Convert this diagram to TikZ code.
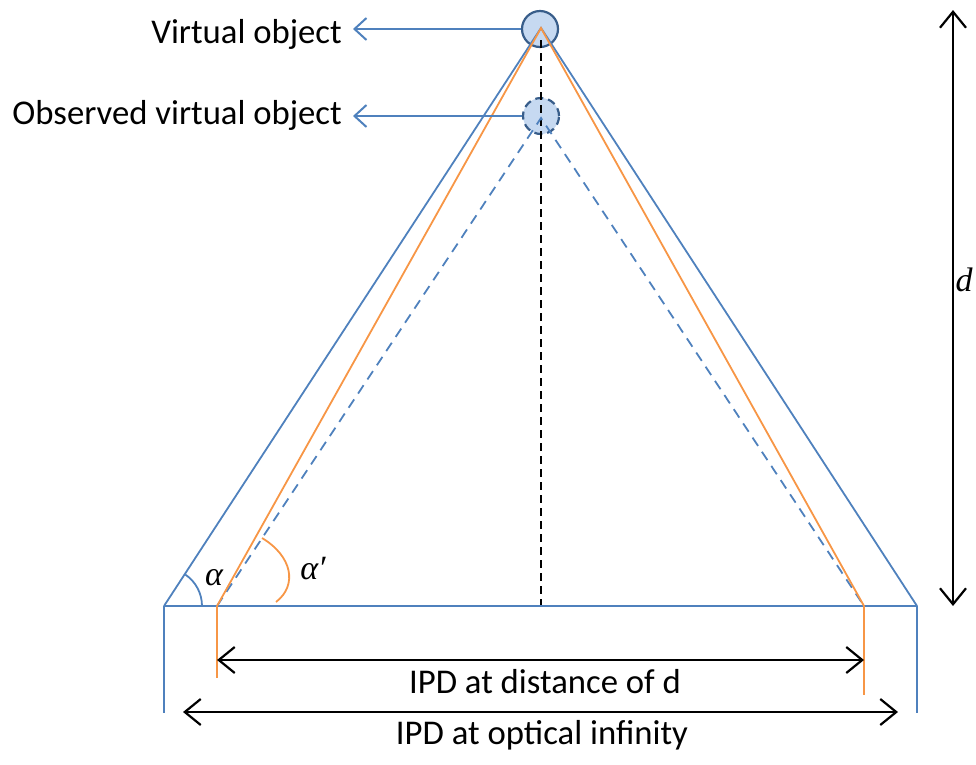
\documentclass[tikz,border=0pt]{standalone}
\usepackage{fontspec}
\setmainfont{Carlito}
\newfontfamily\symfont{Liberation Serif}
\usetikzlibrary{arrows.meta}
\definecolor{oblue}{HTML}{4F81BD}
\definecolor{oorange}{HTML}{F79646}
\definecolor{cfill}{HTML}{C6D9F1}
\definecolor{cborder}{HTML}{385D8A}
\tikzset{
  bluel/.style={draw=oblue, line width=1.8pt},
  orangel/.style={draw=oorange, line width=1.8pt},
  bluedash/.style={draw=oblue, line width=1.8pt, dash pattern=on 10pt off 7pt},
  blackarr/.style={draw=black, line width=2.2pt, {Straight Barb[length=16pt,width=26pt,line width=2.2pt]}-{Straight Barb[length=16pt,width=26pt,line width=2.2pt]}},
  bluearr/.style={draw=oblue, line width=2pt, -{Straight Barb[length=12pt,width=22pt,line width=2pt]}},
  lbl/.style={font=\fontsize{34.7}{40}\selectfont, inner sep=0pt},
  sym/.style={font=\symfont\itshape\fontsize{34}{40}\selectfont, inner sep=0pt},
  objc/.style={circle, draw=cborder, fill=cfill, line width=2.2pt, minimum size=36pt, inner sep=0pt}
}
\begin{document}
\begin{tikzpicture}[x=1pt,y=-1pt]
\useasboundingbox (0,0) rectangle (976,764);
% objects
\node[objc] (vo) at (540,29) {};
\node[objc, dash pattern=on 8pt off 5pt] (ovo) at (541,116) {};
% key points
\coordinate (apex) at (541,28);
\coordinate (oapex) at (541,118);
\coordinate (bl) at (164,606);
\coordinate (br) at (917,606);
\coordinate (ol) at (217,606);
\coordinate (or) at (864,606);
\coordinate (mid) at (541,606);
\coordinate (blb) at (164,713);
\coordinate (brb) at (917,713);
\coordinate (olb) at (217,678);
\coordinate (orb) at (864,695);
% center dashed line
\draw[black, line width=1.5pt, dash pattern=on 8pt off 5pt] (541,40) coordinate (ctop) -- (mid);
% blue outer lines
\draw[bluel] (bl) -- (apex) -- (br);
\draw[bluel] (bl) -- (br);
\draw[bluel] (bl) -- (blb);
\draw[bluel] (br) -- (brb);
% blue dashed
\draw[bluedash] (ol) -- (oapex) -- (or);
% orange lines
\draw[orangel] (ol) -- (apex) -- (or);
\draw[orangel] (ol) -- (olb);
\draw[orangel] (or) -- (orb);
% angles
\draw[bluel] ([shift={(38,0)}]bl) arc[start angle=0, end angle=-56, radius=38];
\draw[orangel] (262,538) .. controls (292,556) and (298,585) .. (276,602);
\node[sym] (alpha) at (214,578) {α};
\node[sym] (alphap) at (313,569) {α′};
% IPD arrows
\coordinate (a1l) at (217,660);
\coordinate (a1r) at (864,660);
\coordinate (a2l) at (183,712);
\coordinate (a2r) at (898,712);
\draw[blackarr] (a1l) -- (a1r);
\draw[blackarr] (a2l) -- (a2r);
\node[lbl, anchor=base] (t1) at (545,693) {IPD at distance of d};
\node[lbl, anchor=base] (t2) at (542,744) {IPD at optical infinity};
% d arrow
\coordinate (dt) at (953,10);
\coordinate (db) at (953,606);
\draw[blackarr] (dt) -- (db);
\node[sym] (dl) at (964,280) {d};
% labels
\node[lbl, anchor=base east] (vol) at (342,43) {Virtual object};
\node[lbl, anchor=base east] (ovol) at (342,124) {Observed virtual object};
\coordinate (vtip) at (353,29);
\coordinate (otip) at (353,116);
\draw[bluearr] (vo.west) -- (vtip);
\draw[bluearr] (ovo.west) -- (otip);
\end{tikzpicture}
\end{document}
